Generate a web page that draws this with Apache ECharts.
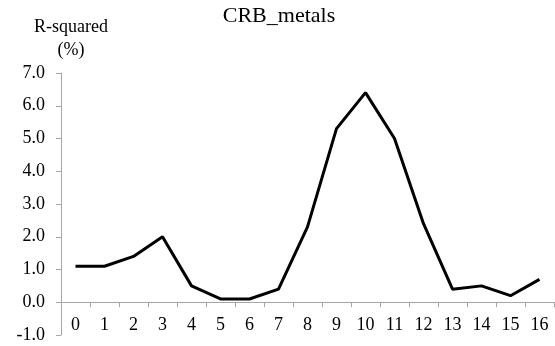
<!DOCTYPE html>
<html>
<head>
<meta charset="utf-8">
<script src="https://cdn.jsdelivr.net/npm/echarts@6/dist/echarts.min.js"></script>
<style>html,body{margin:0;padding:0;background:#fff;}#c{width:555px;height:346px;}</style>
</head>
<body>
<div id="c"></div>
<script>
var categories = ['0','1','2','3','4','5','6','7','8','9','10','11','12','13','14','15','16'];
var rSquared = [1.1, 1.1, 1.4, 2.0, 0.5, 0.1, 0.1, 0.4, 2.3, 5.3, 6.4, 5.0, 2.4, 0.4, 0.5, 0.2, 0.7];
var chartTitle = 'CRB_metals';
var yAxisTitle = 'R-squared\n(%)';

var font = '"Liberation Serif", "Times New Roman", serif';
var axisGray = '#a6a6a6';
var chart = echarts.init(document.getElementById('c'), null, {renderer: 'canvas'});
chart.setOption({
  animation: false,
  backgroundColor: '#fff',
  title: [
    {text: chartTitle, left: 279, top: 5, padding: 0, textAlign: 'center',
     textStyle: {fontFamily: font, fontSize: 22, fontWeight: 'normal', color: '#000', lineHeight: 22}},
    {text: yAxisTitle, left: 71, top: 16, padding: 0, textAlign: 'center',
     textStyle: {fontFamily: font, fontSize: 18, fontWeight: 'normal', color: '#000', lineHeight: 23, align: 'center'}}
  ],
  grid: {left: 61, right: 1, top: 73, bottom: 11, containLabel: false, outerBoundsMode: 'none'},
  xAxis: {
    type: 'category',
    data: categories,
    boundaryGap: true,
    axisLine: {onZero: true, lineStyle: {color: axisGray, width: 1}},
    axisTick: {show: true, length: 5, lineStyle: {color: axisGray}},
    axisLabel: {margin: -19, fontFamily: font, fontSize: 18, color: '#000', interval: 0, hideOverlap: false},
    splitLine: {show: false}
  },
  yAxis: {
    type: 'value',
    min: -1, max: 7, interval: 1,
    axisLine: {show: true, lineStyle: {color: axisGray, width: 1}},
    axisTick: {show: true, length: 5, lineStyle: {color: axisGray}},
    axisLabel: {margin: 16, fontFamily: font, fontSize: 18, color: '#000',
      formatter: function (v) { return v.toFixed(1); }},
    splitLine: {show: false}
  },
  series: [{
    type: 'line',
    data: rSquared,
    showSymbol: false,
    symbol: 'none',
    lineStyle: {color: '#000', width: 3},
    itemStyle: {color: '#000'}
  }]
});
</script>
</body>
</html>
